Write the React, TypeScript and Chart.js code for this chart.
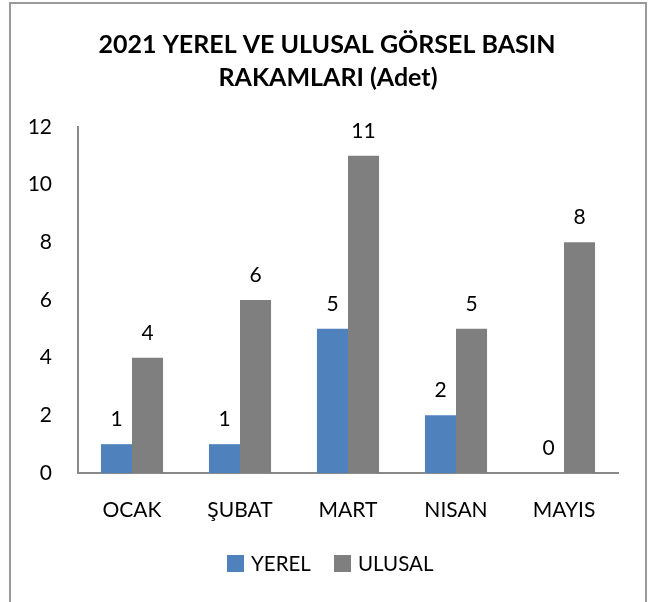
import React, { useEffect, useRef } from "react";
import { Chart, registerables } from "chart.js";

Chart.register(...registerables);

const categories = ["OCAK", "ŞUBAT", "MART", "NISAN", "MAYIS"];
const yerel = [1, 1, 5, 2, 0];
const ulusal = [4, 6, 11, 5, 8];
const titleLines = ["2021 YEREL VE ULUSAL GÖRSEL BASIN", "RAKAMLARI (Adet)"];
const seriesNames = ["YEREL", "ULUSAL"];
const colors = ["#4F81BD", "#7F7F7F"];

const FONT = "Lato, 'Noto Sans', sans-serif";

const decor = {
  id: "decor",
  beforeDraw(chart: any) {
    const ctx = chart.ctx;
    ctx.save();
    ctx.fillStyle = "#ffffff";
    ctx.fillRect(0, 0, chart.width, chart.height);
    ctx.strokeStyle = "#9a9a9a";
    ctx.lineWidth = 2;
    ctx.beginPath();
    ctx.moveTo(10, 620);
    ctx.lineTo(10, 3);
    ctx.lineTo(646, 3);
    ctx.lineTo(646, 620);
    ctx.stroke();
    ctx.restore();
  },
  afterDraw(chart: any) {
    const ctx = chart.ctx;
    ctx.save();
    // title
    ctx.fillStyle = "#000";
    ctx.textAlign = "center";
    ctx.textBaseline = "middle";
    ctx.font = `bold 25px ${FONT}`;
    ctx.fillText(titleLines[0], 327, 45);
    ctx.fillText(titleLines[1], 328, 78);
    // data labels
    ctx.font = `21px ${FONT}`;
    ctx.textBaseline = "alphabetic";
    chart.data.datasets.forEach((ds: any, di: number) => {
      const meta = chart.getDatasetMeta(di);
      meta.data.forEach((bar: any, i: number) => {
        ctx.fillText(String(ds.data[i]), bar.x, bar.y - 18);
      });
    });
    // legend
    const items = [
      { x: 227, tx: 251 },
      { x: 334, tx: 358 },
    ];
    ctx.font = `20.5px ${FONT}`;
    ctx.textAlign = "left";
    ctx.textBaseline = "middle";
    items.forEach((it, i) => {
      ctx.fillStyle = colors[i];
      ctx.fillRect(it.x, 555, 17, 17);
      ctx.fillStyle = "#000";
      ctx.fillText(seriesNames[i], it.tx, 564);
    });
    ctx.restore();
  },
};

export default function App() {
  const ref = useRef<HTMLCanvasElement>(null);
  useEffect(() => {
    const chart = new Chart(ref.current!, {
      type: "bar",
      data: {
        labels: categories,
        datasets: [
          { label: seriesNames[0], data: yerel, backgroundColor: colors[0] },
          { label: seriesNames[1], data: ulusal, backgroundColor: colors[1] },
        ],
      },
      options: {
        animation: false,
        responsive: false,
        maintainAspectRatio: false,
        layout: { padding: { left: 0, top: 127, right: 30, bottom: 0 } },
        plugins: {
          legend: { display: false },
          title: { display: false },
          tooltip: { enabled: false },
        },
        datasets: {
          bar: { categoryPercentage: 0.575, barPercentage: 1 },
        },
        scales: {
          x: {
            grid: { display: false, drawTicks: false },
            border: { display: true, color: "#898989", width: 2 },
            ticks: {
              color: "#000",
              font: { family: FONT, size: 21 },
              padding: 25,
              maxRotation: 0,
            },
            afterFit: (s: any) => {
              s.height = 129;
            },
          },
          y: {
            min: 0,
            max: 12,
            grid: { display: false, drawTicks: false },
            border: { display: true, color: "#898989", width: 2 },
            ticks: {
              stepSize: 2,
              color: "#000",
              font: { family: FONT, size: 21 },
              padding: 26,
            },
            afterFit: (s: any) => {
              s.width = 78;
            },
          },
        },
      },
      plugins: [decor],
    });
    return () => chart.destroy();
  }, []);
  return (
    <div style={{ position: "absolute", left: 0, top: 0, width: 648, height: 602 }}>
      <canvas ref={ref} width={648} height={602} style={{ display: "block" }} />
    </div>
  );
}
